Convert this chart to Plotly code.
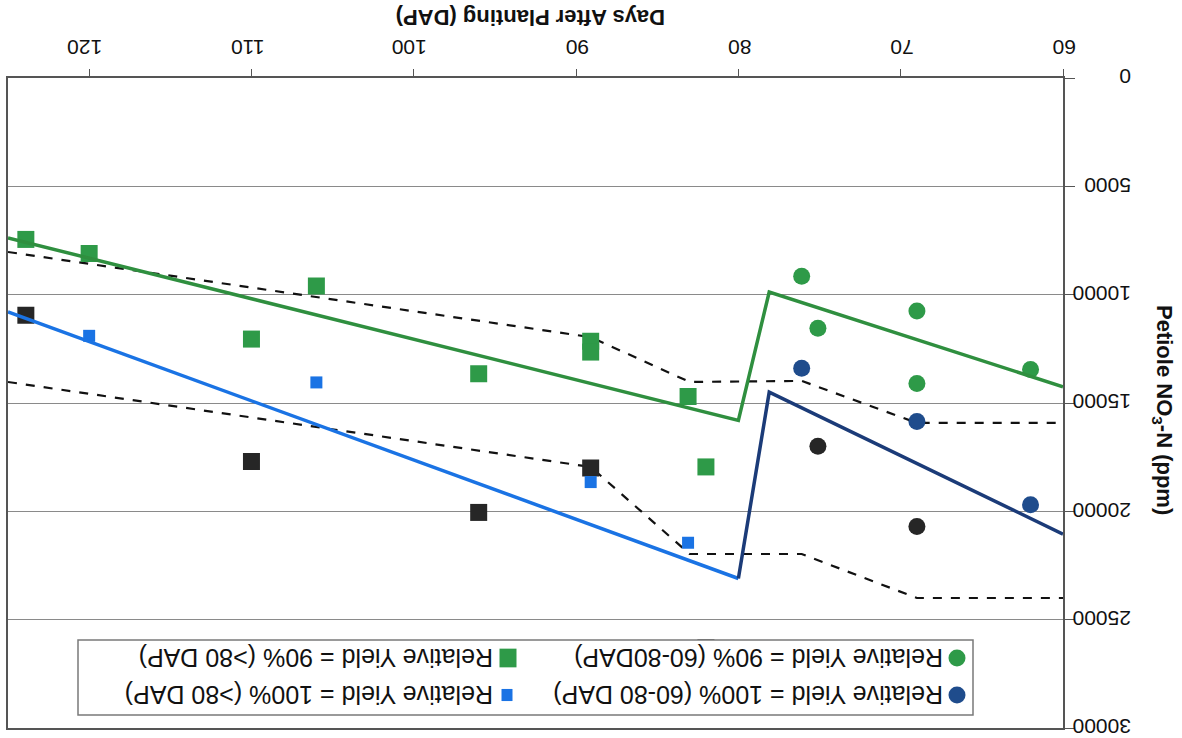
import plotly.graph_objects as go

# ---- data: petiole nitrate vs. days after planting ----
x_ticks = [60, 70, 80, 90, 100, 110, 120]
y_ticks = [0, 5000, 10000, 15000, 20000, 25000, 30000]
y_tick_labels = ["0", "5000", "10000", "15000", "20000", "25000", "30000"]

# circles: samples after 80 DAP
dap_green_circ = [76.1, 75.1, 69.0, 69.0, 62.0]
no3_green_circ = [9150, 11550, 10750, 14100, 13450]
dap_navy_circ = [76.1, 69.0, 62.0]
no3_navy_circ = [13400, 15850, 19700]
dap_black_circ = [75.1, 69.0]
no3_black_circ = [17000, 20700]

# squares: samples 60-80 DAP window
dap_green_sq = [123.9, 120.0, 106.0, 110.0, 96.0, 89.1, 89.1, 83.1, 82.0]
no3_green_sq = [7450, 8100, 9600, 12050, 13650, 12150, 12650, 14700, 17950]
dap_blue_sq = [120.0, 106.0, 89.1, 83.1]
no3_blue_sq = [11900, 14050, 18650, 21450]
dap_black_sq = [123.9, 110.0, 96.0, 89.1, 82.0]
no3_black_sq = [10950, 17700, 20050, 18000, 26300]

# critical-concentration lines
dap_green_line = [125, 80, 78.1, 60]
no3_green_line = [7380, 15800, 9880, 14250]
dap_blue_line = [125, 80]
no3_blue_line = [10800, 23100]
dap_navy_line = [80, 78.1, 60]
no3_navy_line = [23100, 14500, 21050]

# sufficiency band (dashed)
dap_band_upper = [125, 89.1, 83.0, 76.1, 69.0, 60]
no3_band_upper = [8030, 11960, 14030, 13980, 15920, 15920]
dap_band_lower = [125, 89.1, 83.0, 76.1, 69.0, 60]
no3_band_lower = [14030, 17950, 21970, 21970, 24000, 24000]

legend_labels = [
    "Relative Yield = 90% (60-80DAP)",
    "Relative Yield = 90% (>80 DAP)",
    "Relative Yield = 100% (60-80 DAP)",
    "Relative Yield = 100% (>80 DAP)",
]

GREEN = "#2e9a48"
GREEN_LINE = "#2f8f3f"
NAVY = "#1f4c8c"
NAVY_LINE = "#1b3b78"
BLUE = "#1a73e4"
BLACK = "#262626"
FONT = "Liberation Sans, Arial, sans-serif"

W, H = 1182, 738
L, R, T, B = 8, 1063, 78, 728  # plot area in pixels


def px(xp):
    return (xp - L) / (R - L)


def py(yp):
    return (B - yp) / (B - T)


fig = go.Figure()


def line(xs, ys, color, width, dash="solid"):
    fig.add_trace(go.Scatter(x=xs, y=ys, mode="lines",
                             line=dict(color=color, width=width, dash=dash),
                             showlegend=False, hoverinfo="skip"))


def pts(xs, ys, color, symbol, size):
    fig.add_trace(go.Scatter(x=xs, y=ys, mode="markers",
                             marker=dict(color=color, symbol=symbol, size=size,
                                         line=dict(width=0)),
                             showlegend=False))


line(dap_band_upper, no3_band_upper, "#111111", 2.2, "dash")
line(dap_band_lower, no3_band_lower, "#111111", 2.2, "dash")

pts(dap_green_sq, no3_green_sq, GREEN, "square", 17)
pts(dap_black_sq, no3_black_sq, BLACK, "square", 17)
pts(dap_blue_sq, no3_blue_sq, BLUE, "square", 12)
pts(dap_green_circ, no3_green_circ, GREEN, "circle", 17)
pts(dap_navy_circ, no3_navy_circ, NAVY, "circle", 17)
pts(dap_black_circ, no3_black_circ, BLACK, "circle", 17)

line(dap_green_line, no3_green_line, GREEN_LINE, 3.5)
line(dap_blue_line, no3_blue_line, BLUE, 3.5)
line(dap_navy_line, no3_navy_line, NAVY_LINE, 3.5)

shapes = []
annotations = []

# legend box (drawn with shapes so its text can be set upside down)
shapes.append(dict(type="rect", xref="paper", yref="paper",
                   x0=px(78), x1=px(973), y0=py(715), y1=py(640),
                   fillcolor="white", line=dict(color="#7a7a7a", width=1.5),
                   layer="above"))

rows = [658, 695]
legend_items = [
    (957, rows[0], "circle", GREEN, 8.5, 945, legend_labels[0]),
    (508, rows[0], "square", GREEN, 8.5, 495, legend_labels[1]),
    (957, rows[1], "circle", NAVY, 8.5, 945, legend_labels[2]),
    (507, rows[1], "square", BLUE, 5.5, 495, legend_labels[3]),
]
for cx, cy, kind, col, r, tx, label in legend_items:
    ry = r if kind == "circle" else r * 1.1
    shapes.append(dict(type="circle" if kind == "circle" else "rect",
                       xref="paper", yref="paper",
                       x0=px(cx - r), x1=px(cx + r), y0=py(cy + ry), y1=py(cy - ry),
                       fillcolor=col, line=dict(width=0), layer="above"))
    annotations.append(dict(xref="paper", yref="paper", x=px(tx), y=py(cy),
                            xanchor="right", yanchor="middle", text=label,
                            textangle=180, showarrow=False,
                            font=dict(family=FONT, size=25, color="#111111")))

# axis titles
annotations.append(dict(xref="paper", yref="paper", x=px(531), y=py(18),
                        xanchor="center", yanchor="middle",
                        text="<b>Days After Planting (DAP)</b>", textangle=180,
                        showarrow=False, font=dict(family=FONT, size=22, color="#111111")))
annotations.append(dict(xref="paper", yref="paper", x=px(1163), y=py(410),
                        xanchor="center", yanchor="middle",
                        text="<b>Petiole NO<sub>3</sub>-N (ppm)</b>", textangle=90,
                        showarrow=False, font=dict(family=FONT, size=22, color="#111111")))

fig.update_layout(
    width=W, height=H,
    margin=dict(l=L, r=W - R, t=T, b=H - B, autoexpand=False),
    paper_bgcolor="white", plot_bgcolor="white",
    shapes=shapes, annotations=annotations,
    xaxis=dict(range=[125, 60], side="top", tickmode="array", tickvals=x_ticks,
               tickangle=180, ticks="outside", ticklen=7, tickcolor="#555",
               ticklabelshift=-13, automargin=False,
               showline=True, linecolor="#555", linewidth=1.5, mirror=True,
               showgrid=False, zeroline=False,
               tickfont=dict(family=FONT, size=21, color="#111111")),
    yaxis=dict(range=[30000, 0], side="right", tickmode="array",
               tickvals=y_ticks, ticktext=y_tick_labels,
               tickangle=180, ticks="outside", ticklen=10, tickcolor="#555",
               ticklabelstandoff=52, ticklabelshift=-5, ticklabeloverflow="allow",
               automargin=False,
               showline=True, linecolor="#555", linewidth=1.5, mirror=True,
               showgrid=True, gridcolor="#8a8a8a", gridwidth=1.2, zeroline=False,
               tickfont=dict(family=FONT, size=21, color="#111111")),
)

fig.write_html("out.html")
